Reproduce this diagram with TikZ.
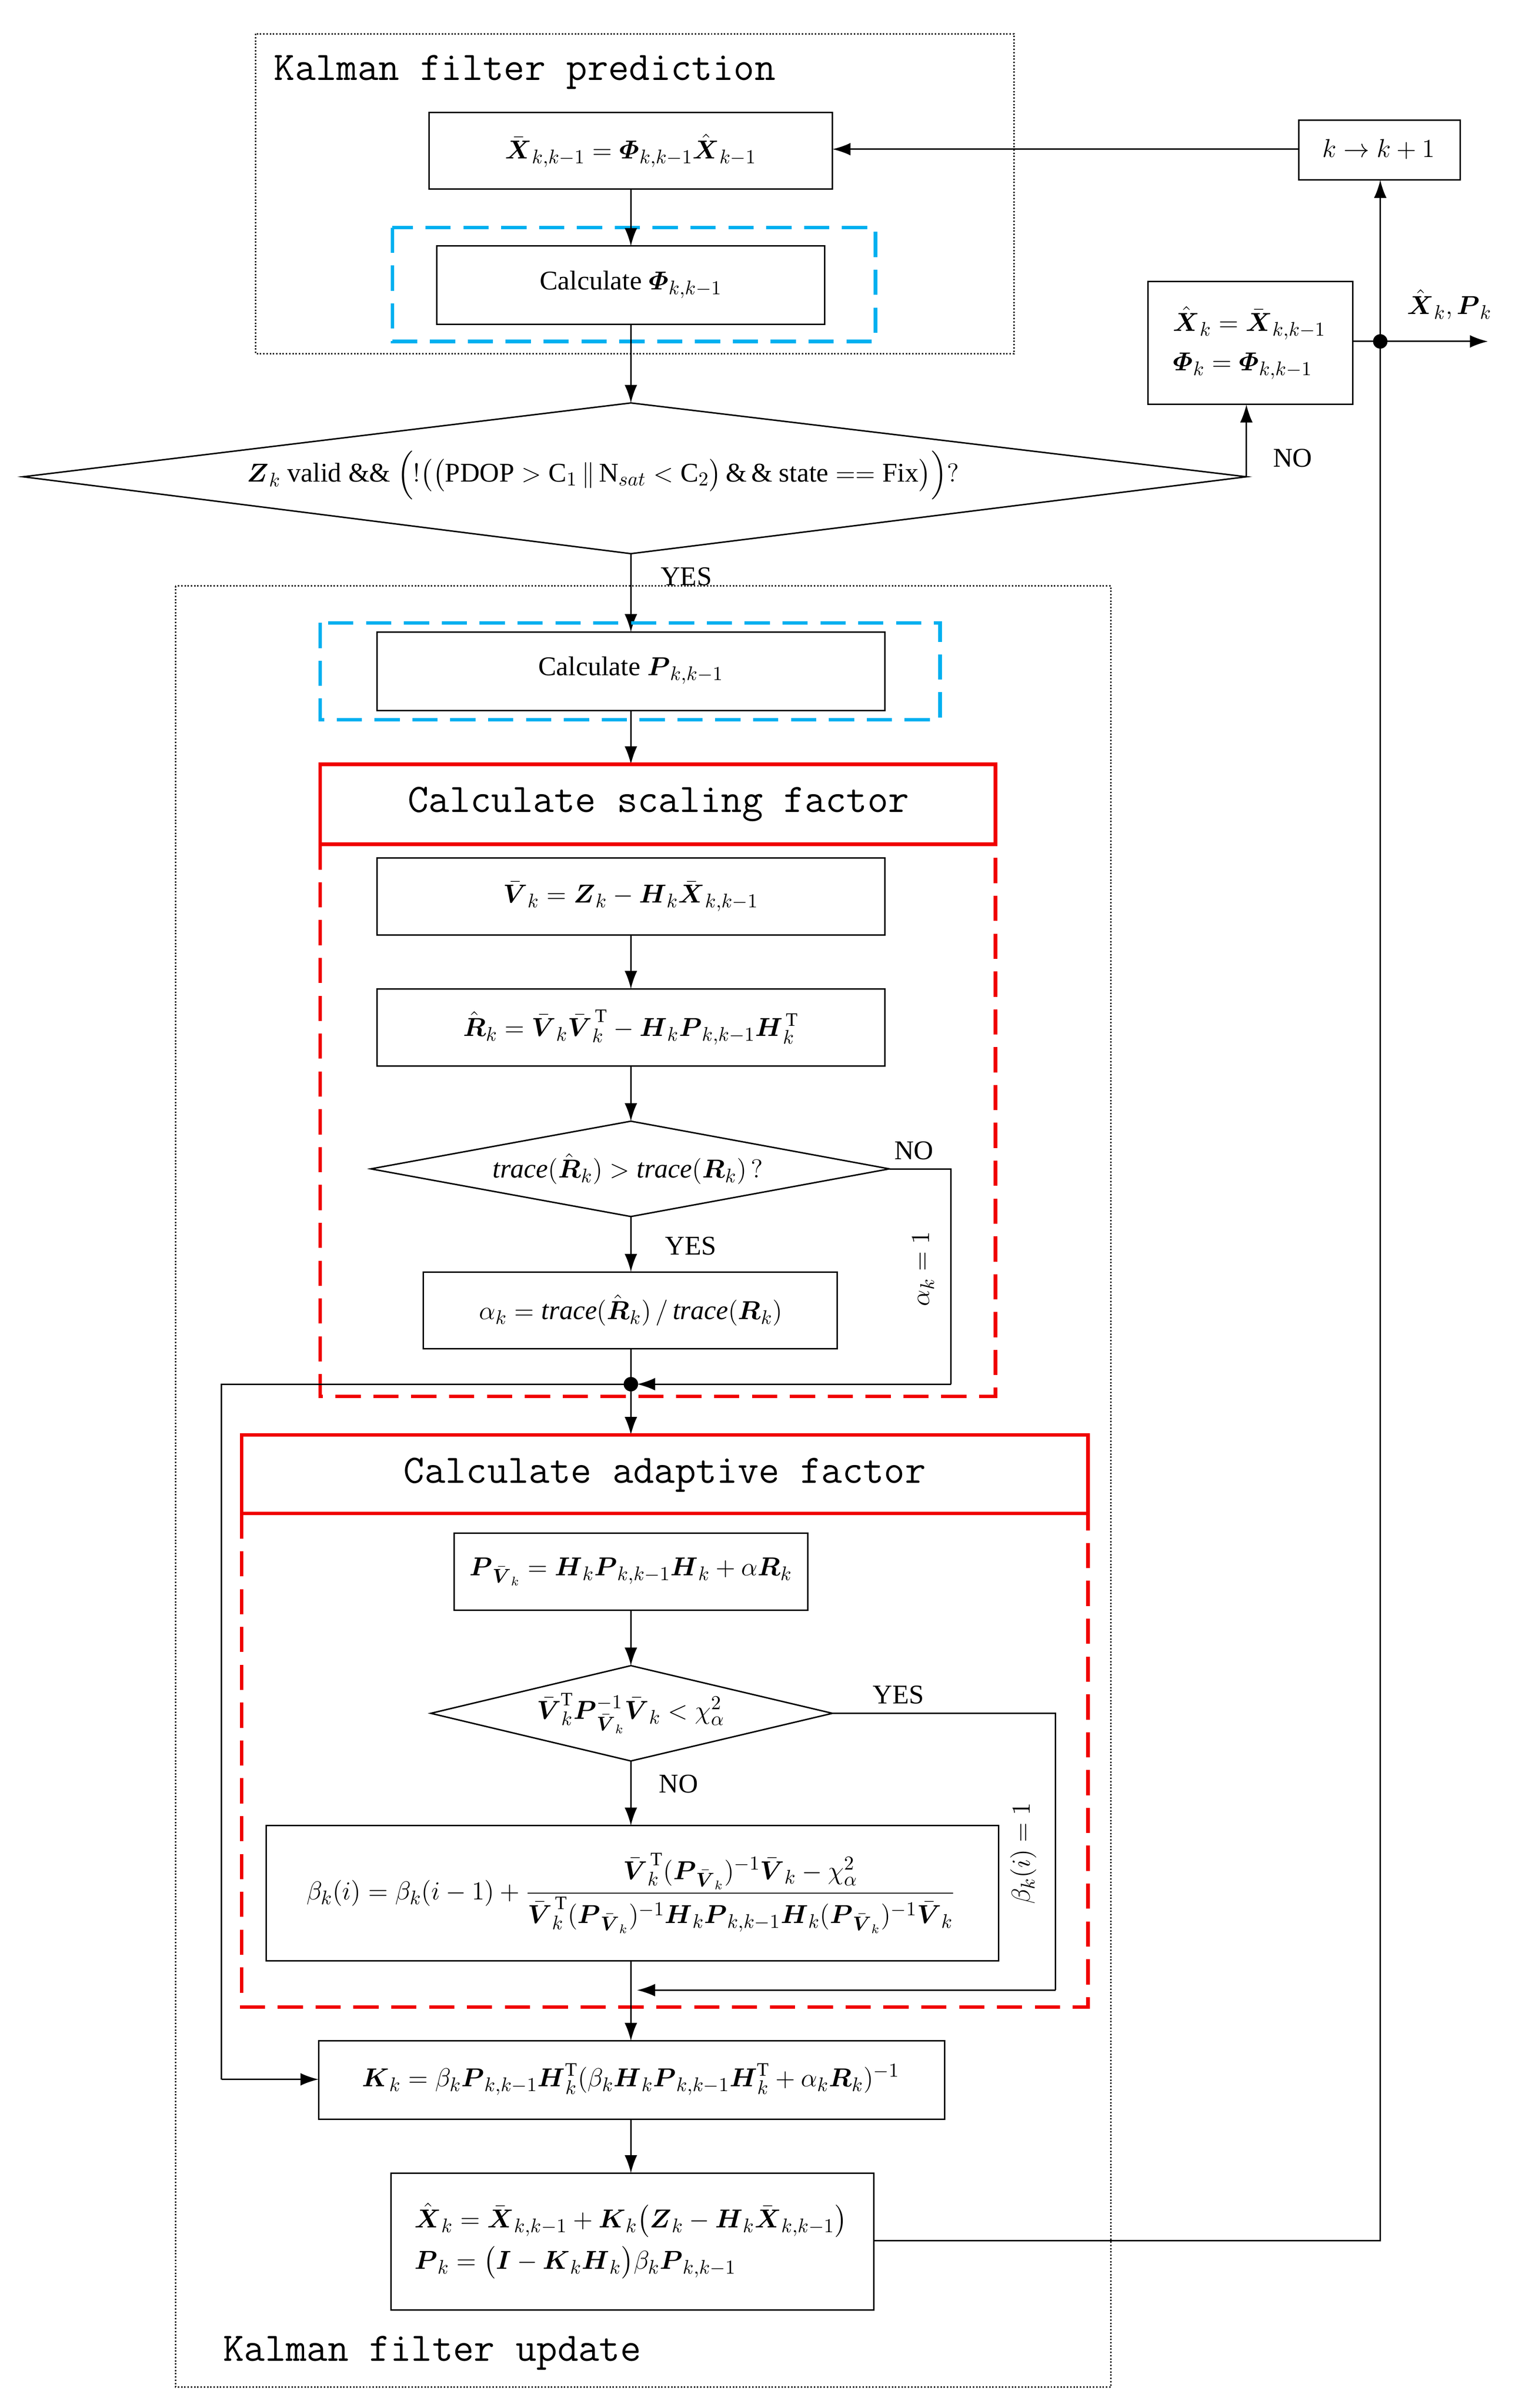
\documentclass[tikz,border=0pt]{standalone}
\usepackage{amsmath,amssymb}
\usepackage{fontspec}
\setmainfont{Liberation Serif}
\usetikzlibrary{arrows.meta}
\newcommand{\bb}[1]{\boldsymbol{#1}}
\newcommand{\Phib}{\boldsymbol{\varPhi}}
\definecolor{myblue}{RGB}{0,176,240}
\definecolor{myred}{RGB}{240,0,0}
\begin{document}
\begin{tikzpicture}[x=0.03cm,y=-0.03cm,
  box/.style={draw,thick,minimum width=0,inner sep=0},
  ln/.style={thick},
  ar/.style={thick,-{Latex[length=10pt,width=7pt]}},
  dot/.style={circle,fill,inner sep=0,minimum size=8pt},
  eq/.style={font=\fontsize{15}{18}\selectfont},
  mono/.style={font=\fontsize{22.5}{26}\ttfamily},
  bdash/.style={draw=myblue,line width=2pt,dash pattern=on 14pt off 7pt},
  rdash/.style={draw=myred,line width=2pt,dash pattern=on 14pt off 7pt},
  lab/.style={font=\fontsize{15}{18}\selectfont}]
\useasboundingbox (0,0) rectangle (1000,1565.7);
% prediction
\draw[densely dotted,thick] (166,22) rectangle (659,230);
\node[mono,anchor=west] (tp) at (174,47) {Kalman filter prediction};
\draw[box] (279,73) rectangle (541,123);
\node[eq] (b1) at (410,98) {$\bar{\bb X}_{k,k-1}=\Phib_{k,k-1}\hat{\bb X}_{k-1}$};
\draw[bdash] (255,148) rectangle (569,222);
\draw[box] (284,160) rectangle (536,211);
\node[eq] (b2) at (410,185) {Calculate $\Phib_{k,k-1}$};
\draw[box] (844,78) rectangle (949,117);
\node[eq] (kk) at (896,97) {$k\rightarrow k+1$};
\draw[box] (746,183) rectangle (879,263);
\node[eq,align=left] (rb) at (812,223) {$\hat{\bb X}_k=\bar{\bb X}_{k,k-1}$\\[4pt]$\Phib_k=\Phib_{k,k-1}$};
% diamond 1
\draw[thick] (15,310) -- (410,262) -- (810,310) -- (410,360) -- cycle;
\node[eq] (d1) at (392,309) {$\bb Z_k$ valid \&\& $\Big(!\big(\big(\mathrm{PDOP}>\mathrm{C}_1\,\|\,\mathrm{N}_{sat}<\mathrm{C}_2\big)\,\&\,\&\ \mathrm{state}==\mathrm{Fix}\big)\Big)?$};
\node[lab] (no1) at (840,298) {NO};
\node[lab] (yes1) at (446,375) {YES};
% links top
\draw[ar] (844,97) -- (541,97);
\draw[ar] (410,123) -- (410,160);
\draw[ar] (410,211) -- (410,262);
\draw[ar] (810,310) -- (810,263);
\draw[ar] (879,222) -- (967,222);
\node[dot] (j1) at (897,222) {};
\node[eq] (xp) at (942,198) {$\hat{\bb X}_k,\bb P_k$};
% update
\draw[densely dotted,thick] (114,381) rectangle (722,1552);
\node[mono,anchor=west] (tu) at (141,1530) {Kalman filter update};
\draw[ar] (410,360) -- (410,411);
\draw[bdash] (208,405) rectangle (611,468);
\draw[box] (245,411) rectangle (575,462);
\node[eq] (b3) at (410,436) {Calculate $\bb P_{k,k-1}$};
\draw[ar] (410,462) -- (410,497);
\draw[draw=myred,line width=2pt] (208,497) rectangle (647,549);
\node[mono] (sf) at (428,523) {Calculate scaling factor};
\draw[rdash] (208,549) -- (208,908) -- (647,908) -- (647,549);
\draw[box] (245,558) rectangle (575,608);
\node[eq] (b4) at (410,583) {$\bar{\bb V}_k=\bb Z_k-\bb H_k\bar{\bb X}_{k,k-1}$};
\draw[ar] (410,608) -- (410,643);
\draw[box] (245,643) rectangle (575,693);
\node[eq] (b5) at (410,668) {$\hat{\bb R}_k=\bar{\bb V}_k\bar{\bb V}_k^{\,\mathrm T}-\bb H_k\bb P_{k,k-1}\bb H_k^{\,\mathrm T}$};
\draw[ar] (410,693) -- (410,729);
\draw[thick] (241,760) -- (410,729) -- (578,760) -- (410,791) -- cycle;
\node[eq] (d2) at (408,760) {$\mathit{trace}(\hat{\bb R}_k)>\mathit{trace}(\bb R_k)\,?$};
\node[lab] (no2) at (594,748) {NO};
\node[lab] (yes2) at (449,810) {YES};
\draw[ar] (410,791) -- (410,827);
\draw[box] (275,827) rectangle (544,877);
\node[eq] (b6) at (410,852) {$\alpha_k=\mathit{trace}(\hat{\bb R}_k)\,/\,\mathit{trace}(\bb R_k)$};
\draw[ln] (578,760) -- (618,760) -- (618,900);
\draw[ar] (618,900) -- (414,900);
\node[eq,rotate=90] (a1) at (600,825) {$\alpha_k=1$};
\draw[ln] (410,877) -- (410,900);
\node[dot] (j2) at (410,900) {};
\draw[ar] (410,900) -- (410,933);
\draw[ln] (410,900) -- (144,900) -- (144,1352);
\draw[ar] (144,1352) -- (207,1352);
\draw[draw=myred,line width=2pt] (157,933) rectangle (707,984);
\node[mono] (af) at (432,959) {Calculate adaptive factor};
\draw[rdash] (157,984) -- (157,1305) -- (707,1305) -- (707,984);
\draw[box] (295,997) rectangle (525,1047);
\node[eq] (b7) at (410,1022) {$\bb P_{\bar{\bb V}_k}=\bb H_k\bb P_{k,k-1}\bb H_k+\alpha\bb R_k$};
\draw[ar] (410,1047) -- (410,1083);
\draw[thick] (280,1114) -- (410,1083) -- (541,1114) -- (410,1145) -- cycle;
\node[eq] (d3) at (410,1114) {$\bar{\bb V}_k^{\mathrm T}\bb P_{\bar{\bb V}_k}^{-1}\bar{\bb V}_k<\chi^2_\alpha$};
\node[lab] (yes3) at (584,1102) {YES};
\node[lab] (no3) at (441,1160) {NO};
\draw[ar] (410,1145) -- (410,1187);
\draw[box] (173,1187) rectangle (649,1275);
\node[eq] (b8) at (410,1231) {$\beta_k(i)=\beta_k(i-1)+\dfrac{\bar{\bb V}_k^{\,\mathrm T}(\bb P_{\bar{\bb V}_k})^{-1}\bar{\bb V}_k-\chi^2_\alpha}{\bar{\bb V}_k^{\,\mathrm T}(\bb P_{\bar{\bb V}_k})^{-1}\bb H_k\bb P_{k,k-1}\bb H_k(\bb P_{\bar{\bb V}_k})^{-1}\bar{\bb V}_k}$};
\draw[ln] (541,1114) -- (686,1114) -- (686,1294);
\draw[ar] (686,1294) -- (414,1294);
\node[eq,rotate=90] (bt) at (665,1205) {$\beta_k(i)=1$};
\draw[ar] (410,1275) -- (410,1327);
\draw[box] (207,1327) rectangle (614,1378);
\node[eq] (b9) at (410,1352) {$\bb K_k=\beta_k\bb P_{k,k-1}\bb H_k^{\mathrm T}(\beta_k\bb H_k\bb P_{k,k-1}\bb H_k^{\mathrm T}+\alpha_k\bb R_k)^{-1}$};
\draw[ar] (410,1378) -- (410,1413);
\draw[box] (254,1413) rectangle (568,1502);
\node[eq,align=left] (b10) at (410,1457) {$\hat{\bb X}_k=\bar{\bb X}_{k,k-1}+\bb K_k\big(\bb Z_k-\bb H_k\bar{\bb X}_{k,k-1}\big)$\\[4pt]$\bb P_k=\big(\bb I-\bb K_k\bb H_k\big)\beta_k\bb P_{k,k-1}$};
\draw[ln] (568,1457) -- (897,1457) -- (897,222);
\draw[ar] (897,222) -- (897,117);
\end{tikzpicture}
\end{document}
